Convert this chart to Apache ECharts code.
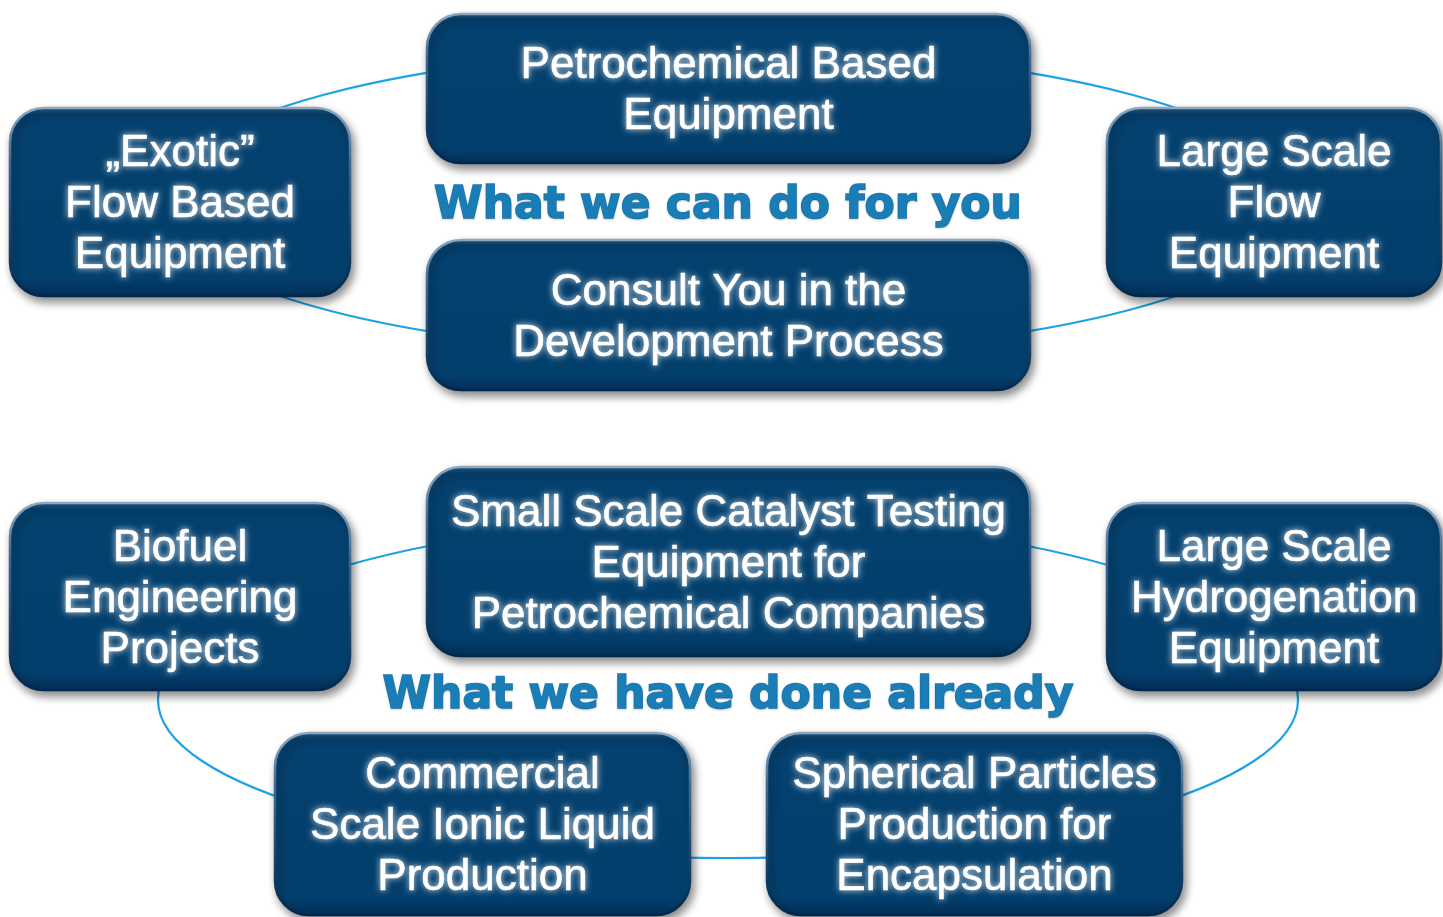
<!DOCTYPE html>
<html>
<head>
<meta charset="utf-8">
<script src="https://cdn.jsdelivr.net/npm/echarts@6/dist/echarts.min.js"></script>
<style>
html,body{margin:0;padding:0;background:#fff;}
#chart{width:1443px;height:917px;}
</style>
</head>
<body>
<div id="chart"></div>
<script>
// ---- diagram data (in a 1443 x 917 data space) ----
const boxLabels = [
  'Petrochemical Based\nEquipment',
  '\u201EExotic\u201D\nFlow Based\nEquipment',
  'Large Scale\nFlow\nEquipment',
  'Consult You in the\nDevelopment Process',
  'Small Scale Catalyst Testing\nEquipment for\nPetrochemical Companies',
  'Biofuel\nEngineering\nProjects',
  'Large Scale\nHydrogenation\nEquipment',
  'Commercial\nScale Ionic Liquid\nProduction',
  'Spherical Particles\nProduction for\nEncapsulation'
];
const boxLeft   = [427, 10, 1107, 427, 427, 10, 1107, 275, 767];
const boxTop    = [14, 108, 108, 240, 467, 503, 503, 733, 733];
const boxRight  = [1030, 350, 1441, 1030, 1030, 350, 1441, 690, 1182];
const boxBottom = [163, 296, 296, 390, 656, 690, 690, 915, 915];

const headings = ['What we can do for you', 'What we have done already'];
const headingX = [728, 728];
const headingY = [207, 697];

const ringCX = [728, 728];
const ringCY = [202, 700];
const ringRX = [570, 570];
const ringRYTop = [152, 181];
const ringRYBottom = [152, 158];

const chart = echarts.init(document.getElementById('chart'), null, {renderer: 'canvas'});

const boxData = boxLabels.map((l, i) => [boxLeft[i], boxTop[i], boxRight[i], boxBottom[i]]);
const ringData = ringCX.map((c, i) => [ringCX[i], ringCY[i], ringRX[i], ringRYTop[i], ringRYBottom[i]]);
const headingData = headings.map((h, i) => [headingX[i], headingY[i]]);

function renderRing(params, api) {
  const c = api.coord([api.value(0), api.value(1)]);
  const rx = api.size([api.value(2), 0])[0];
  const ryT = api.size([0, api.value(3)])[1];
  const ryB = api.size([0, api.value(4)])[1];
  const k = 0.5523;
  const cx = c[0], cy = c[1];
  const st = {stroke: '#1ea2e3', lineWidth: 2.2, fill: 'none'};
  const seg = (x1, y1, cpx1, cpy1, cpx2, cpy2, x2, y2) => ({
    type: 'bezierCurve',
    shape: {x1, y1, cpx1, cpy1, cpx2, cpy2, x2, y2},
    style: st
  });
  return {
    type: 'group',
    children: [
      seg(cx - rx, cy, cx - rx, cy - k * ryT, cx - k * rx, cy - ryT, cx, cy - ryT),
      seg(cx, cy - ryT, cx + k * rx, cy - ryT, cx + rx, cy - k * ryT, cx + rx, cy),
      seg(cx + rx, cy, cx + rx, cy + k * ryB, cx + k * rx, cy + ryB, cx, cy + ryB),
      seg(cx, cy + ryB, cx - k * rx, cy + ryB, cx - rx, cy + k * ryB, cx - rx, cy)
    ]
  };
}

function renderBox(params, api) {
  const p1 = api.coord([api.value(0), api.value(1)]);
  const p2 = api.coord([api.value(2), api.value(3)]);
  const x = Math.min(p1[0], p2[0]), y = Math.min(p1[1], p2[1]);
  const w = Math.abs(p2[0] - p1[0]), h = Math.abs(p2[1] - p1[1]);
  return {
    type: 'group',
    children: [
      {
        type: 'rect',
        shape: {x, y, width: w, height: h, r: 34},
        style: {
          fill: new echarts.graphic.LinearGradient(0, 0, 0, 1, [
            {offset: 0, color: '#2d5f8a'},
            {offset: 0.04, color: '#04416f'},
            {offset: 0.9, color: '#033f6d'},
            {offset: 1, color: '#012d56'}
          ]),
          stroke: new echarts.graphic.LinearGradient(0, 0, 0, 1, [
            {offset: 0, color: '#8fa9c0'},
            {offset: 0.3, color: '#3d6890'},
            {offset: 1, color: '#01264b'}
          ]),
          lineWidth: 2.5,
          shadowBlur: 9,
          shadowOffsetX: 3,
          shadowOffsetY: 5,
          shadowColor: 'rgba(0,0,0,0.45)'
        }
      },
      {
        type: 'text',
        style: {
          text: boxLabels[params.dataIndex],
          x: x + w / 2,
          y: y + h / 2 + 3,
          align: 'center',
          verticalAlign: 'middle',
          fill: '#ffffff',
          stroke: '#ffffff',
          lineWidth: 0.6,
          font: '44px "Liberation Sans", Arial, sans-serif',
          lineHeight: 51,
          textShadowColor: 'rgba(255,255,255,0.8)',
          textShadowBlur: 6
        }
      }
    ]
  };
}

function renderHeading(params, api) {
  const c = api.coord([api.value(0), api.value(1)]);
  return {
    type: 'text',
    style: {
      text: headings[params.dataIndex],
      x: c[0],
      y: c[1],
      align: 'center',
      verticalAlign: 'middle',
      fill: '#1b7db6',
      stroke: '#1b7db6',
      lineWidth: 1.6,
      font: 'bold 44px "DejaVu Sans", sans-serif',
      textShadowColor: 'rgba(0,0,0,0.15)',
      textShadowBlur: 2,
      textShadowOffsetY: 1
    }
  };
}

chart.setOption({
  animation: false,
  backgroundColor: '#ffffff',
  grid: {left: 0, right: 0, top: 0, bottom: 0},
  xAxis: {type: 'value', min: 0, max: 1443, show: false},
  yAxis: {type: 'value', min: 0, max: 917, inverse: true, show: false},
  series: [
    {type: 'custom', name: 'rings', coordinateSystem: 'cartesian2d', z: 1,
     renderItem: renderRing, data: ringData, silent: true, clip: false},
    {type: 'custom', name: 'boxes', coordinateSystem: 'cartesian2d', z: 2,
     renderItem: renderBox, data: boxData, silent: true, clip: false},
    {type: 'custom', name: 'headings', coordinateSystem: 'cartesian2d', z: 3,
     renderItem: renderHeading, data: headingData, silent: true, clip: false}
  ]
});
</script>
</body>
</html>
